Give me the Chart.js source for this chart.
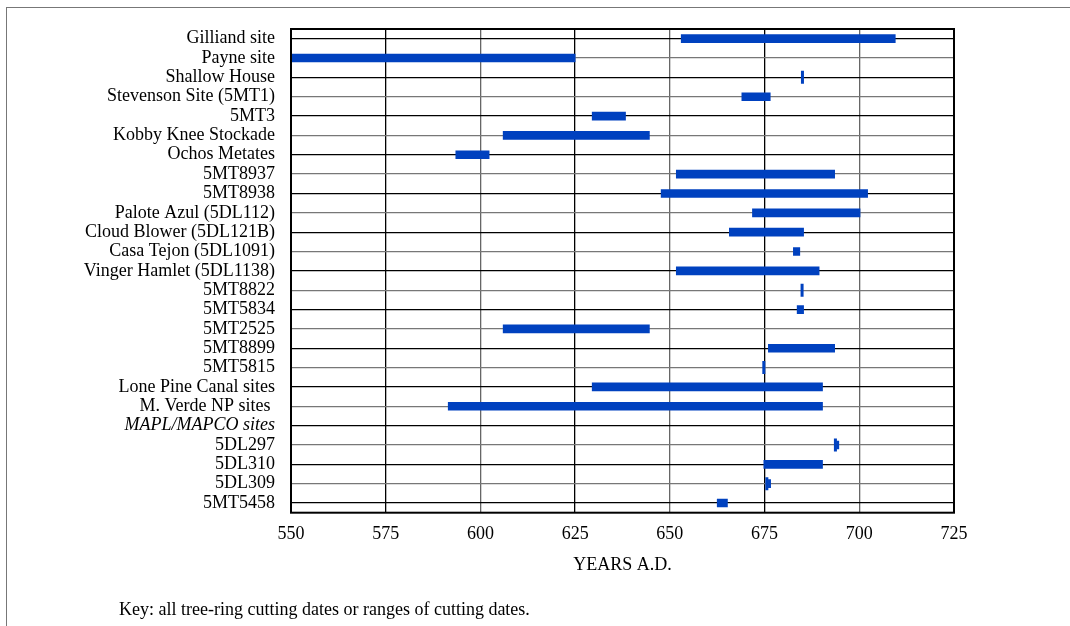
<!DOCTYPE html>
<html>
<head>
<meta charset="utf-8">
<script src="https://cdn.jsdelivr.net/npm/chart.js@4/dist/chart.umd.min.js"></script>
<style>
  html, body { margin: 0; padding: 0; background: #fff; }
  #page { position: relative; width: 1070px; height: 626px; overflow: hidden; }
  #frame { position: absolute; left: 6px; top: 7px; width: 1100px; height: 700px;
           border-left: 1px solid #777; border-top: 1px solid #777; }
  #wrap { position: absolute; left: 0; top: 0; width: 1070px; height: 626px; }
  #key { position: absolute; left: 119px; top: 599px; font: 18px "Liberation Serif", serif; color: #000; }
</style>
</head>
<body>
<div id="page">
  <div id="frame"></div>
  <div id="wrap"><canvas id="chart"></canvas></div>
  <div id="key">Key: all tree-ring cutting dates or ranges of cutting dates.</div>
</div>
<script>
// sites, top to bottom
const SITES = [
  'Gilliand site', 'Payne site', 'Shallow House', 'Stevenson Site (5MT1)', '5MT3',
  'Kobby Knee Stockade', 'Ochos Metates', '5MT8937', '5MT8938', 'Palote Azul (5DL112)',
  'Cloud Blower (5DL121B)', 'Casa Tejon (5DL1091)', 'Vinger Hamlet (5DL1138)', '5MT8822', '5MT5834',
  '5MT2525', '5MT8899', '5MT5815', 'Lone Pine Canal sites', 'M. Verde NP sites ',
  'MAPL/MAPCO sites', '5DL297', '5DL310', '5DL309', '5MT5458',
];
const ITALIC_ROW = 'MAPL/MAPCO sites';

// cutting-date ranges (start, end); null = no bar
const RANGE_START = [653, 550, null, 669, 629.5, 606, 593.5, 651.7, 647.7, 671.8,
                     665.7, 682.6, 651.7, null, 683.6, 606, 676, null, 629.5, 591.5,
                     null, 694, 674.8, 676, 662.5];
const RANGE_END   = [709.5, 625, null, 676.5, 638.3, 644.6, 602.3, 693.5, 702.2, 700.2,
                     685.3, 684.3, 689.4, null, 685.3, 644.6, 693.5, null, 690.3, 690.3,
                     null, 694.6, 690.3, 676.6, 665.2];

// single cutting dates (drawn as thin ticks)
const SINGLE_SITE = ['Shallow House', '5MT8822', '5MT5815', '5DL297', '5DL309'];
const SINGLE_YEAR = [685, 684.9, 674.8, 693.7, 675.6];

const X_MIN = 550, X_MAX = 725, X_STEP = 25;
const BLUE = '#0041bf';
const SERIF = '"Liberation Serif", "Times New Roman", serif';

// frame: top & right edges of the plot box
const boxPlugin = {
  id: 'box',
  afterDraw(chart) {
    const { ctx, chartArea: a } = chart;
    ctx.save();
    ctx.strokeStyle = '#000';
    ctx.lineWidth = 2;
    ctx.strokeRect(a.left, a.top, a.right - a.left, a.bottom - a.top);
    ctx.restore();
  }
};

new Chart(document.getElementById('chart'), {
  type: 'bar',
  data: {
    labels: SITES,
    datasets: [
      {
        label: 'ranges',
        data: SITES.map((s, i) => RANGE_START[i] == null ? null : [RANGE_START[i], RANGE_END[i]]),
        backgroundColor: BLUE,
        borderWidth: 0,
        barThickness: 8,
        borderSkipped: false,
        grouped: false,
        order: 2,
      },
      {
        type: 'scatter',
        label: 'single',
        data: SINGLE_SITE.map((s, i) => ({ x: SINGLE_YEAR[i], y: s })),
        pointStyle: 'line',
        rotation: 90,
        radius: 6.5,
        borderWidth: 3,
        borderColor: BLUE,
        backgroundColor: BLUE,
        order: 1,
      },
    ],
  },
  options: {
    indexAxis: 'y',
    responsive: true,
    maintainAspectRatio: false,
    animation: false,
    layout: { padding: { top: 29, right: 116, left: 0, bottom: 50 } },
    plugins: { legend: { display: false }, tooltip: { enabled: false } },
    scales: {
      x: {
        type: 'linear',
        min: X_MIN, max: X_MAX,
        ticks: { stepSize: X_STEP, color: '#000', padding: 11, font: { family: SERIF, size: 18 } },
        grid: { drawTicks: false, color: c => (c.index % 2 ? '#000' : '#666'), lineWidth: 1.3 },
        border: { display: false },
        title: { display: true, text: 'YEARS A.D.', color: '#000', padding: 0, font: { family: SERIF, size: 18 } },
        afterFit: s => { s.height = 63.3; },
      },
      y: {
        type: 'category',
        offset: true,
        ticks: {
          color: '#000', padding: 16, autoSkip: false,
          font: c => ({ family: SERIF, size: 18,
                        style: SITES[c.index] === ITALIC_ROW ? 'italic' : 'normal' }),
        },
        grid: { offset: false, drawTicks: false, color: c => (c.index % 2 ? '#777' : '#000'), lineWidth: 1.3 },
        border: { display: false },
        afterFit: s => { s.width = 291; },
      },
    },
  },
  plugins: [boxPlugin],
});
</script>
</body>
</html>
